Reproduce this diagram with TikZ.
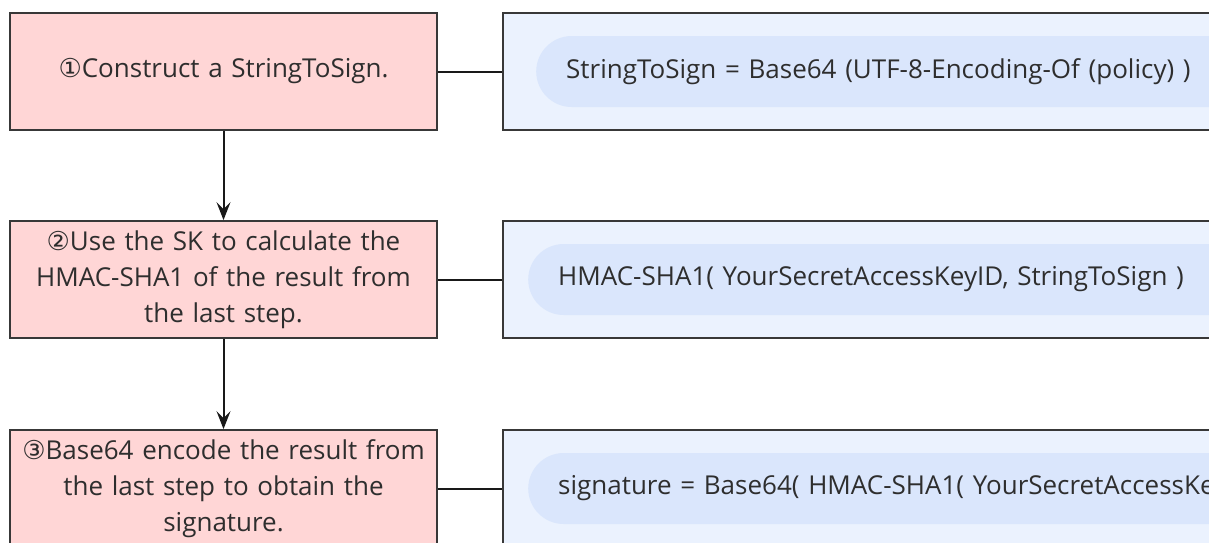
\documentclass[tikz,border=0pt]{standalone}
\usepackage{fontspec}
\setmainfont{Open Sans}
\newfontfamily\symfont{DejaVu Sans}
\usetikzlibrary{arrows.meta}
\definecolor{pinkfill}{HTML}{FFD6D6}
\definecolor{bluefill}{HTML}{EBF2FE}
\definecolor{pillfill}{HTML}{DAE6FC}
\definecolor{edge}{HTML}{383838}
\definecolor{txt}{HTML}{2E2E2E}
\tikzset{
  pinkbox/.style={draw=edge, line width=1.8pt, fill=pinkfill, minimum width=427pt, minimum height=117pt,
    text width=420pt, align=center, text=txt, inner sep=0pt, font=\fontsize{26}{36}\selectfont},
  bluebox/.style={draw=edge, line width=1.8pt, fill=bluefill, minimum width=760pt, minimum height=117pt,
    anchor=west, inner sep=0pt},
  pill/.style={fill=pillfill, rounded corners=35.5pt, minimum height=71pt, anchor=west,
    inner xsep=30pt, inner ysep=0pt, text width=1100pt, align=left, text=txt, font=\fontsize{26}{30}\selectfont},
  conn/.style={draw=black!90, line width=2pt},
  arr/.style={draw=black!90, line width=2pt, -{Stealth[length=18pt,width=14pt,inset=7pt]}}
}
\begin{document}
\begin{tikzpicture}[x=1pt,y=-1pt]
\useasboundingbox (0,0) rectangle (1209,542);
\fill[white] (0,0) rectangle (1209,542);
\clip (0,0) rectangle (1209,542);
% left step boxes
\node[pinkbox] (s1) at (223.5,71.5) {{\symfont ①}Construct a StringToSign.};
\node[pinkbox] (s2) at (223.5,279.5) {{\symfont ②}Use the SK to calculate the\\HMAC-SHA1 of the result from\\the last step.};
\node[pinkbox] (s3) at (223.5,488.5) {{\symfont ③}Base64 encode the result from\\the last step to obtain the\\signature.};
% right formula boxes
\node[bluebox] (b1) at (502,71.5) {};
\node[bluebox] (b2) at (502,279.5) {};
\node[bluebox] (b3) at (502,488.5) {};
% pills with formulas
\node[pill] (p1) at (536,71.5) {StringToSign = Base64 (UTF-8-Encoding-Of (policy) )};
\node[pill] (p2) at (528,279.5) {HMAC-SHA1( YourSecretAccessKeyID, StringToSign )};
\node[pill] (p3) at (528,488.5) {signature = Base64( HMAC-SHA1( YourSecretAccessKeyID, StringToSign ) )};
% connectors
\draw[conn] (s1.east) -- (b1.west);
\draw[conn] (s2.east) -- (b2.west);
\draw[conn] (s3.east) -- (b3.west);
\draw[arr] (s1.south) -- (s2.north);
\draw[arr] (s2.south) -- (s3.north);
\end{tikzpicture}
\end{document}
